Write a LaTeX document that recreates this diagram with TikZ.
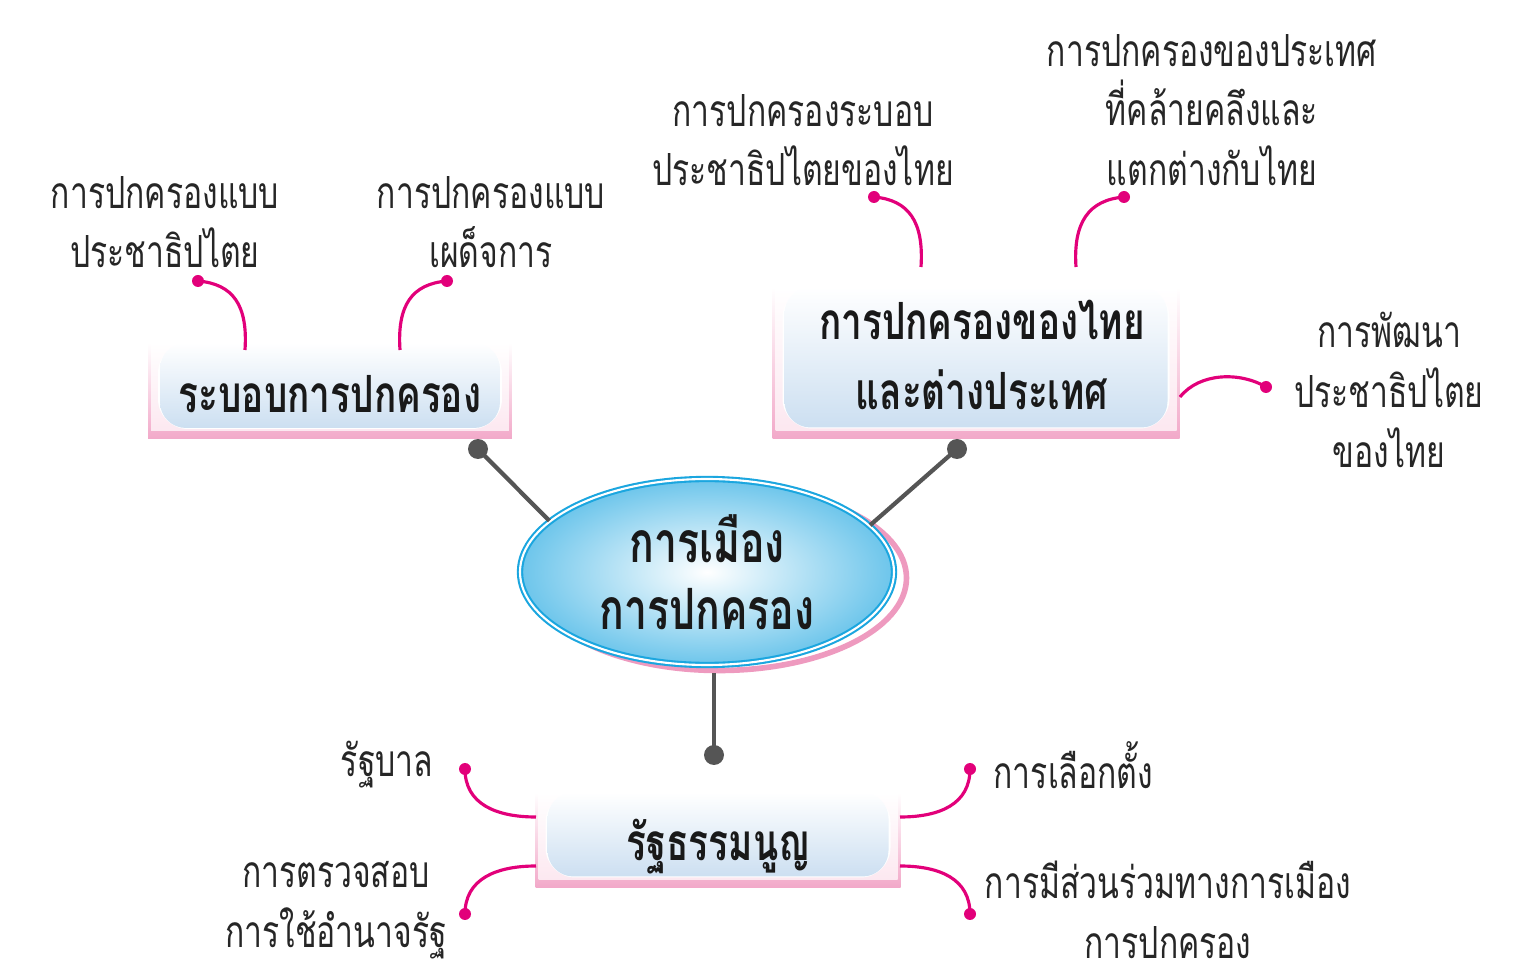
\documentclass[tikz,border=0pt]{standalone}
\usepackage{fontspec}
\setmainfont[Script=Thai, FakeStretch=0.72]{Loma}
\usepackage{xcolor}
\usepackage{tikz}
\usetikzlibrary{shapes.geometric}

\definecolor{dotpink}{HTML}{E2007A}
\definecolor{linegray}{HTML}{555555}
\definecolor{framepink}{HTML}{F2A9C9}
\definecolor{framein}{HTML}{FCE6EF}
\definecolor{boxblue}{HTML}{CCDFF1}
\definecolor{ovalblue}{HTML}{6CC5EB}
\definecolor{ringblue}{HTML}{1BA6DF}
\definecolor{ringpink}{HTML}{EE9ABF}

\tikzset{
	idea/.style={align=center, inner sep=0pt, text=black!85,
		font=\fontsize{12.6}{17}\selectfont},
	title/.style={align=center, inner sep=0pt, text=black!90,
		font=\fontsize{14.6}{19.9}\selectfont\bfseries},
	framebox/.style={rectangle, inner sep=0pt,
		top color=white, bottom color=framepink,
		path picture={
			\shade[top color=white, bottom color=framein]
				([shift={(0.3mm,0mm)}]path picture bounding box.north west) rectangle
				([shift={(-0.3mm,0.8mm)}]path picture bounding box.south east);
			\fill[white, rounded corners=3mm]
				([shift={(1mm,0mm)}]path picture bounding box.north west) rectangle
				([shift={(-1mm,1mm)}]path picture bounding box.south east);
			\shade[top color=white, bottom color=boxblue, rounded corners=2.6mm]
				([shift={(1.2mm,0mm)}]path picture bounding box.north west) rectangle
				([shift={(-1.2mm,1.1mm)}]path picture bounding box.south east);
		}},
	hub/.style={ellipse, inner sep=0pt, minimum width=3.74cm, minimum height=1.86cm,
		inner color=white, outer color=ovalblue, draw=ringblue, line width=0.6pt,
		double=white, double distance=0.6pt, align=center, text=black!90,
		font=\fontsize{16.2}{19}\selectfont\bfseries},
	branch/.style={dotpink, line width=0.9pt},
	stem/.style={linegray, line width=1.2pt},
}

\begin{document}
\begin{tikzpicture}[x=0.1mm, y=-0.1mm]
	\useasboundingbox (0,0) rectangle (1533,978);

	% centre
	\draw[ringpink, line width=1.6pt] (719,578) ellipse (1.875cm and 0.925cm);
	\fill[white] (707,572) ellipse (1.90cm and 0.95cm);
	\node[hub] (pol) at (707,572) {การเมือง\\การปกครอง};

	% three frames
	\node[framebox, minimum width=3.64cm, minimum height=0.96cm] (sysf) at (330,391) {};
	\node[framebox, minimum width=4.07cm, minimum height=1.51cm] (thaif) at (976,363) {};
	\node[framebox, minimum width=3.65cm, minimum height=0.95cm] (consf) at (718,840) {};
	\node[title] (sys) at (330,394) {ระบอบการปกครอง};
	\node[title] (thai) at (982,355) {การปกครองของไทย\\และต่างประเทศ};
	\node[title] (cons) at (718,847) {รัฐธรรมนูญ};

	% stems
	\coordinate (g1) at (478,449);
	\coordinate (g2) at (957,449);
	\coordinate (g3) at (714,755);
	\coordinate (g3top) at (714,673);
	\draw[stem] (g1) -- (pol.162);
	\draw[stem] (g2) -- (pol.16);
	\draw[stem] (g3) -- (g3top);
	\foreach \g in {g1,g2,g3}
		\fill[linegray] (\g) circle (1mm);

	% leaves
	\node[idea] (dem) at (165,222) {การปกครองแบบ\\ประชาธิปไตย};
	\node[idea] (dic) at (491,222) {การปกครองแบบ\\เผด็จการ};
	\node[idea] (thdem) at (803,140) {การปกครองระบอบ\\ประชาธิปไตยของไทย};
	\node[idea] (comp) at (1212,110) {การปกครองของประเทศ\\ที่คล้ายคลึงและ\\แตกต่างกับไทย};
	\node[idea] (dev) at (1389,390) {การพัฒนา\\ประชาธิปไตย\\ของไทย};
	\node[idea, anchor=east] (gov) at (434,765) {รัฐบาล};
	\node[idea] (chk) at (336,910) {การตรวจสอบ\\การใช้อำนาจรัฐ};
	\node[idea, anchor=west] (vote) at (993,765) {การเลือกตั้ง};
	\node[idea] (part) at (1168,910) {การมีส่วนร่วมทางการเมือง\\การปกครอง};

	% pink branches
	\coordinate (p1) at (198,281);
	\coordinate (p2) at (447,281);
	\coordinate (p3) at (874,197);
	\coordinate (p4) at (1124,197);
	\coordinate (p5) at (1266,387);
	\coordinate (p6) at (465,769);
	\coordinate (p7) at (465,914);
	\coordinate (p8) at (970,769);
	\coordinate (p9) at (970,914);
	\coordinate (e1) at (245,350);
	\coordinate (e2) at (400,350);
	\coordinate (e3) at (921,267);
	\coordinate (e4) at (1076,267);
	\coordinate (e5) at (1180,397);
	\coordinate (e6) at (536,817);
	\coordinate (e7) at (536,866);
	\coordinate (e8) at (900,817);
	\coordinate (e9) at (900,866);
	\draw[branch] (p1) .. controls +(35,3) and +(3,-45) .. (e1);
	\draw[branch] (p2) .. controls +(-35,3) and +(-3,-45) .. (e2);
	\draw[branch] (p3) .. controls +(35,3) and +(3,-45) .. (e3);
	\draw[branch] (p4) .. controls +(-35,3) and +(-3,-45) .. (e4);
	\draw[branch] (e5) .. controls +(20,-25) and +(-25,-15) .. (p5);
	\draw[branch] (p6) .. controls +(0,35) and +(-40,0) .. (e6);
	\draw[branch] (p7) .. controls +(0,-35) and +(-40,0) .. (e7);
	\draw[branch] (p8) .. controls +(0,35) and +(40,0) .. (e8);
	\draw[branch] (p9) .. controls +(0,-35) and +(40,0) .. (e9);
	\foreach \p in {p1,p2,p3,p4,p5,p6,p7,p8,p9}
		\fill[dotpink] (\p) circle (0.6mm);
\end{tikzpicture}
\end{document}
